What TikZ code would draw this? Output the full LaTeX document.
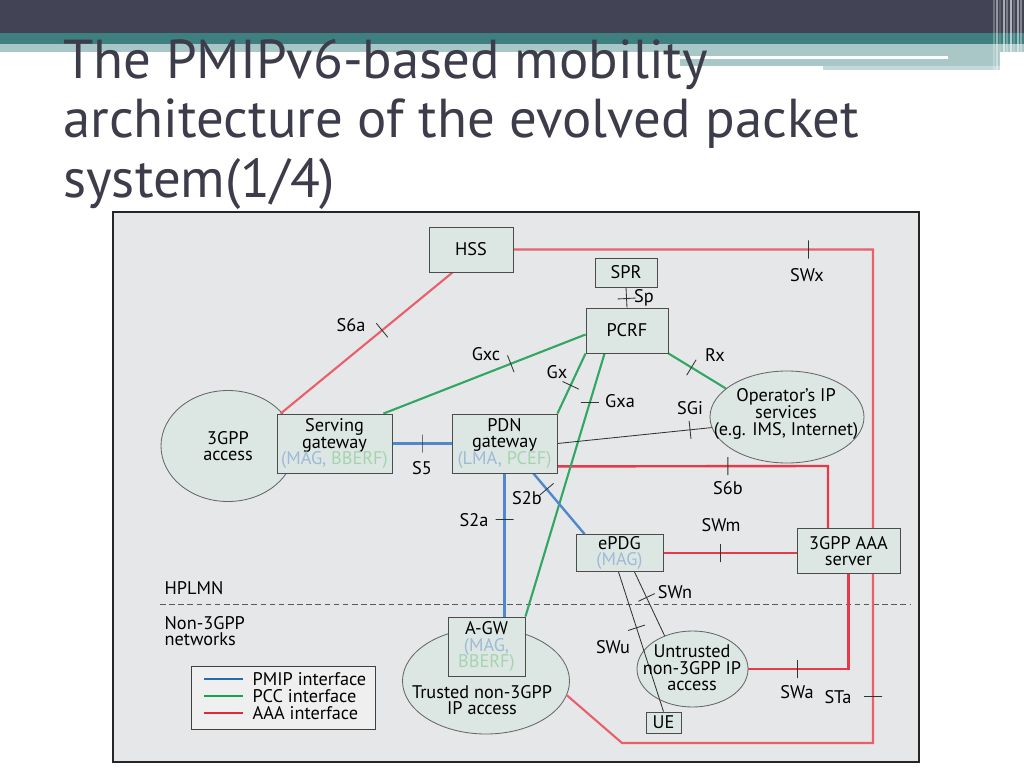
\documentclass[tikz,border=0pt]{standalone}
\usepackage{fontspec}
\setmainfont{PT Sans}
\usetikzlibrary{shapes.geometric,calc}
\definecolor{HdDark}{HTML}{434356}
\definecolor{HdTeal}{HTML}{3E7F7F}
\definecolor{HdPale}{HTML}{A9C7C7}
\definecolor{TitleGray}{HTML}{3C3C4A}
\definecolor{FigBg}{HTML}{E6E7E8}
\definecolor{LegBg}{HTML}{EFEFF0}
\definecolor{BoxFill}{HTML}{DCE7E4}
\definecolor{PmipBlue}{HTML}{4F88CC}
\definecolor{PccGreen}{HTML}{34A664}
\definecolor{AaaRed}{HTML}{E6394A}
\definecolor{AaaPink}{HTML}{E8606C}
\definecolor{LgBlue}{HTML}{1F6DB4}
\definecolor{LgGreen}{HTML}{19A04F}
\definecolor{LgRed}{HTML}{E0283A}
\definecolor{MagBlue}{HTML}{9FB9D6}
\definecolor{BbGreen}{HTML}{A6D3AE}
\newcommand\lbl{\fontsize{13}{11.8}\selectfont\lineskiplimit=-6pt}
\newcommand\ttl{\fontsize{39}{42}\selectfont}
\pgfdeclarelayer{back}
\pgfdeclarelayer{mid}
\pgfsetlayers{back,mid,main}

\tikzset{
  box/.style={draw=black!70,fill=BoxFill,line width=.6pt,inner sep=0pt,align=center,font=\lbl},
  blob/.style={ellipse,draw=black!60,fill=BoxFill,line width=.6pt,inner sep=0pt,align=center,font=\lbl},
  txt/.style={align=center,font=\lbl,inner sep=0pt},
  ifc/.style={font=\lbl,inner sep=1pt},
  pmip/.style={draw=PmipBlue,line width=1.7pt},
  pcc/.style={draw=PccGreen,line width=1.5pt},
  aaa/.style={draw=AaaRed,line width=1.7pt},
  hssline/.style={draw=AaaPink,line width=1.5pt},
  plain/.style={draw=black!80,line width=.6pt},
  tick/.style={sloped,pos=#1,draw=black!80,line width=.6pt,inner sep=0pt,minimum width=0pt,minimum height=.45cm},
  htick/.style={pos=#1,draw=black!80,line width=.6pt,inner sep=0pt,minimum width=.45cm,minimum height=0pt},
}

\begin{document}
\begin{tikzpicture}[x=0.025cm,y=-0.025cm]
\useasboundingbox (0,0) rectangle (1024,768);
\begin{pgfonlayer}{back}
% slide header
\fill[HdDark] (0,0) rectangle (1024,33);
\fill[HdTeal] (0,33) rectangle (1024,44);
\fill[HdPale] (0,44) rectangle (1024,52);
\fill[HdPale] (680,52) rectangle (1000,66);
\fill[HdPale!70!white] (823,66) rectangle (1000,70);
\fill[white] (680,56) rectangle (948,59);
\foreach \xx/\op in {993/.25,996/.45,999/.15,1003/.55,1006/.3,1010/.6,1013/.2,1017/.5,1020/.35}
  \fill[white,opacity=\op] (\xx,0) rectangle (\xx+2,70);
% figure frame
\fill[FigBg] (113,212) rectangle (919,762);
\draw[black!85,line width=.8pt] (113,212) rectangle (919,762);
\draw[black!65,line width=.7pt,dash pattern=on 4pt off 2.5pt] (160,604) -- (910,604);
% access clouds
\node[blob,minimum width=134*0.025cm,minimum height=111*0.025cm] (acc3gpp) at (228,446) {3GPP\\access};
\node[blob,minimum width=154*0.025cm,minimum height=92*0.025cm] (opip) at (787,417) {};
\node[blob,minimum width=167*0.025cm,minimum height=106*0.025cm] (trust) at (486,681) {};
\node[blob,minimum width=111*0.025cm,minimum height=76*0.025cm] (untr) at (692.5,669) {};
\end{pgfonlayer}

\node[anchor=base west,TitleGray,font=\ttl,inner sep=0pt] (title1) at (63,79) {The PMIPv6-based mobility};
\node[anchor=base west,TitleGray,font=\ttl,inner sep=0pt] (title2) at (63,138) {architecture of the evolved packet};
\node[anchor=base west,TitleGray,font=\ttl,inner sep=0pt] (title3) at (63,197) {system(1/4)};

\node[ifc,anchor=west] (hplmn) at (163,588) {HPLMN};
\node[ifc,anchor=west,align=left] (non3gpp) at (163,631) {Non-3GPP\\networks};

% boxes
\node[box,minimum width=84*0.025cm,minimum height=45*0.025cm] (hss) at (471,249.5) {HSS};
\node[box,minimum width=62*0.025cm,minimum height=29*0.025cm] (spr) at (626,272.5) {SPR};
\node[box,minimum width=82*0.025cm,minimum height=45*0.025cm] (pcrf) at (627,330.5) {PCRF};
\node[box,minimum width=115*0.025cm,minimum height=59*0.025cm] (sgw) at (334.5,443.5)
  {Serving\\gateway\\\textcolor{MagBlue}{(MAG,} \textcolor{BbGreen}{BBERF)}};
\node[box,minimum width=105*0.025cm,minimum height=59*0.025cm] (pdngw) at (504.5,443.5)
  {PDN\\gateway\\\textcolor{MagBlue}{(LMA,} \textcolor{BbGreen}{PCEF)}};
\node[box,minimum width=87*0.025cm,minimum height=37*0.025cm] (epdg) at (619.5,553)
  {ePDG\\\textcolor{MagBlue}{(MAG)}};
\node[box,minimum width=103*0.025cm,minimum height=45*0.025cm] (aaa) at (848.5,551)
  {3GPP AAA\\server};
\node[box,minimum width=77*0.025cm,minimum height=59*0.025cm] (agw) at (486.5,646.5)
  {A-GW\\\textcolor{MagBlue}{(MAG,}\\\textcolor{BbGreen}{BBERF)}};
\node[box,minimum width=35*0.025cm,minimum height=21*0.025cm] (ue) at (663.5,722.5) {UE};

% cloud texts
\node[txt] (opiptxt) at (786,414) {Operator’s IP\\services\\(e.g. IMS, Internet)};
\node[txt] (untrtxt) at (692,668) {Untrusted\\non-3GPP IP\\access};
\node[txt] (trusttxt) at (482,700) {Trusted non-3GPP\\IP access};

\begin{pgfonlayer}{mid}
% red AAA / HSS links
\draw[hssline] (hss.east) -- node[tick=.82]{} (hss.east -| 873,0)
  -- node[tick=.906]{} (873,743) -- (622,743) -- (trust.-10);
\draw[hssline] ($(sgw.north west)+(4,0)$) -- node[tick=.59]{} ($(hss.south west)+(24,0)$);
\draw[aaa] ($(pdngw.south east)+(0,-7)$) -- node[tick=.63]{} (828,466) -- (aaa.north -| 828,0);
\draw[aaa] (epdg.east) -- node[tick=.43]{} (epdg.east -| aaa.west);
\draw[aaa] (aaa.south) |- node[tick=.755]{} (untr.east);
% green PCC links
\draw[pcc] ($(sgw.north east)+(-9,0)$) -- node[tick=.63]{} ($(pcrf.west)+(0,4)$);
\draw[pcc] (pdngw.north east) -- node[tick=.47]{} (pcrf.south west);
\draw[pcc] ($(pcrf.south west)+(19,0)$) -- node[htick=.186]{} (agw.north east);
\draw[pcc] (pcrf.south east) -- node[tick=.4]{} (opip.155);
% blue PMIP links
\draw[pmip] (sgw.east) -- node[tick=.5]{} (pdngw.west);
\draw[pmip] (pdngw.south) -- node[tick=.32]{} (pdngw.south |- agw.north);
\draw[pmip] ($(pdngw.south east)+(-24,0)$) -- node[tick=.26]{} ($(epdg.north west)+(9,0)$);
% plain links
\draw[plain] (spr.south) -- node[tick=.55]{} (pcrf.north);
\draw[plain] (pdngw.east) -- node[tick=.86]{} (opip.188);
\draw[plain] ($(epdg.south)+(15,0)$) -- node[tick=.4]{} (untr.130);
\draw[plain] ($(epdg.south)+(-1,0)$) -- node[tick=.4]{} (ue.north);
\end{pgfonlayer}

% interface labels
\node[ifc] (lbSWx) at (807,275) {SWx};
\node[ifc] (lbS6a) at (351,325) {S6a};
\node[ifc] (lbSp) at (644,298) {Sp};
\node[ifc] (lbGxc) at (486,354) {Gxc};
\node[ifc] (lbRx) at (715,355) {Rx};
\node[ifc] (lbGx) at (557,372) {Gx};
\node[ifc] (lbGxa) at (620,401) {Gxa};
\node[ifc] (lbSGi) at (690,408) {SGi};
\node[ifc] (lbS5) at (422,468) {S5};
\node[ifc] (lbS6b) at (728,488) {S6b};
\node[ifc] (lbS2b) at (527,498) {S2b};
\node[ifc] (lbS2a) at (474,520) {S2a};
\node[ifc] (lbSWm) at (721,525) {SWm};
\node[ifc] (lbSWn) at (675,592) {SWn};
\node[ifc] (lbSWu) at (613,647) {SWu};
\node[ifc] (lbSWa) at (797,692) {SWa};
\node[ifc] (lbSTa) at (838,697) {STa};

% legend
\node[draw=black!75,fill=LegBg,line width=.6pt,minimum width=184*0.025cm,minimum height=63*0.025cm] (legend) at (283,697.5) {};
\draw[LgBlue,line width=2pt] (204,679) -- (243,679);
\draw[LgGreen,line width=2pt] (204,696) -- (243,696);
\draw[LgRed,line width=2pt] (204,713) -- (243,713);
\node[ifc,anchor=west] (lgPmip) at (251,679) {PMIP interface};
\node[ifc,anchor=west] (lgPcc) at (251,696) {PCC interface};
\node[ifc,anchor=west] (lgAaa) at (251,713) {AAA interface};
\end{tikzpicture}
\end{document}
